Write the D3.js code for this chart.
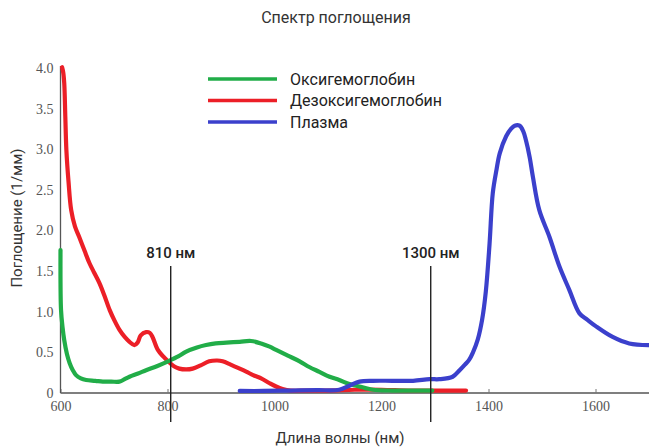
<!DOCTYPE html>
<html><head><meta charset="utf-8">
<script src="https://cdn.jsdelivr.net/npm/d3@7"></script>
<style>body{margin:0;background:#fff}</style>
</head><body>
<svg id="c" width="649" height="448"></svg>
<script>
const xTicks = [600, 800, 1000, 1200, 1400, 1600];
const yTicks = [0, 0.5, 1.0, 1.5, 2.0, 2.5, 3.0, 3.5, 4.0];
const seriesNames = ["Оксигемоглобин", "Дезоксигемоглобин", "Плазма"];

const oxyNm  = [600, 601, 604, 607, 612, 617, 623, 629, 638, 648, 665, 679, 695, 710, 720, 729, 745, 760, 780, 801, 820, 835, 855, 872, 890, 910, 935, 956, 975, 991, 1003, 1025, 1047, 1065, 1084, 1103, 1121, 1140, 1153, 1170, 1184, 1220, 1260, 1295];
const oxyVal = [1.76, 1.02, 0.80, 0.65, 0.48, 0.37, 0.28, 0.22, 0.18, 0.16, 0.15, 0.14, 0.14, 0.14, 0.17, 0.20, 0.24, 0.28, 0.33, 0.39, 0.45, 0.51, 0.56, 0.59, 0.61, 0.62, 0.63, 0.64, 0.61, 0.57, 0.53, 0.46, 0.39, 0.32, 0.26, 0.20, 0.16, 0.11, 0.09, 0.06, 0.04, 0.03, 0.03, 0.03];

const deoxyNm  = [603, 605, 607, 609, 611, 615, 620, 627, 635, 645, 654, 663, 673, 682, 692, 701, 710, 720, 729, 738, 744, 750, 760, 767, 772, 782, 792, 801, 812, 822, 835, 847, 862, 878, 893, 903, 918, 935, 948, 960, 975, 991, 1003, 1015, 1030, 1060, 1100, 1150, 1200, 1250, 1300, 1340, 1358];
const deoxyVal = [4.01, 3.95, 3.81, 3.40, 2.99, 2.60, 2.25, 2.05, 1.92, 1.75, 1.60, 1.48, 1.35, 1.20, 1.02, 0.89, 0.78, 0.69, 0.63, 0.59, 0.62, 0.71, 0.75, 0.74, 0.69, 0.53, 0.45, 0.39, 0.33, 0.30, 0.29, 0.30, 0.34, 0.39, 0.40, 0.39, 0.35, 0.30, 0.26, 0.22, 0.18, 0.12, 0.08, 0.05, 0.03, 0.03, 0.03, 0.04, 0.04, 0.03, 0.03, 0.03, 0.03];

const plasmaNm  = [935, 980, 1030, 1080, 1121, 1140, 1159, 1184, 1220, 1259, 1290, 1308, 1333, 1346, 1356, 1364, 1371, 1380, 1388, 1395, 1402, 1408, 1415, 1421, 1433, 1442, 1449, 1458, 1465, 1470, 1477, 1483, 1495, 1514, 1533, 1551, 1570, 1585, 1601, 1632, 1663, 1699];
const plasmaVal = [0.025, 0.025, 0.03, 0.035, 0.04, 0.09, 0.14, 0.15, 0.15, 0.15, 0.17, 0.17, 0.20, 0.28, 0.35, 0.41, 0.50, 0.66, 0.90, 1.25, 1.84, 2.46, 2.75, 2.95, 3.16, 3.25, 3.29, 3.29, 3.22, 3.11, 2.90, 2.66, 2.25, 1.92, 1.55, 1.27, 0.98, 0.90, 0.82, 0.69, 0.61, 0.59];

const markerNm = [806, 1292];
const markerLabels = ["810 нм", "1300 нм"];

const colors = ["#21ad48", "#ec1f27", "#3b40cc"];

const svg = d3.select("#c");
const x = d3.scaleLinear().domain([600, 1700]).range([60.5, 649]);
const y = d3.scaleLinear().domain([0, 4]).range([393, 68]);

// axes
const xAxis = d3.axisBottom(x).tickValues(xTicks).tickSize(-4).tickPadding(8).tickFormat(d3.format("d"));
const gx = svg.append("g").attr("transform", "translate(0,393)").call(xAxis);
const yAxis = d3.axisLeft(y).tickValues(yTicks).tickSize(0).tickPadding(7)
  .tickFormat(d => d === 0 ? "0" : d3.format(".1f")(d));
const gy = svg.append("g").attr("transform", "translate(60.5,0)").call(yAxis);
[gx, gy].forEach(g => {
  g.select(".domain").attr("stroke", "#555").attr("stroke-width", 1.3);
  g.selectAll(".tick line").attr("stroke", "#777");
  g.selectAll("text").attr("font-family", "'Liberation Serif', serif").attr("font-size", 14).attr("fill", "#555");
});
gy.select(".domain").attr("d", "M0,393V66");
gx.select(".domain").attr("d", "M60.5,0H649");

// curves
const series = [
  {nm: deoxyNm, v: deoxyVal, c: colors[1]},
  {nm: oxyNm, v: oxyVal, c: colors[0]},
  {nm: plasmaNm, v: plasmaVal, c: colors[2]}
];
const line = d3.line().x(d => x(d[0])).y(d => y(d[1])).curve(d3.curveCatmullRom.alpha(0.5));
series.forEach(s => {
  svg.append("path").datum(s.nm.map((n, i) => [n, s.v[i]]))
    .attr("d", line).attr("fill", "none").attr("stroke", s.c)
    .attr("stroke-width", 4.2).attr("stroke-linecap", "round").attr("stroke-linejoin", "round");
});

// markers
markerNm.forEach((m, i) => {
  svg.append("line").attr("x1", x(m)).attr("x2", x(m)).attr("y1", 266).attr("y2", 422)
    .attr("stroke", "#222").attr("stroke-width", 1.4);
  svg.append("text").attr("x", x(m)).attr("y", 258).attr("text-anchor", "middle")
    .attr("font-family", "Roboto, sans-serif").attr("font-size", 15).attr("font-weight", 500).attr("fill", "#222")
    .text(markerLabels[i]);
});

// legend
seriesNames.forEach((n, i) => {
  const yy = 79 + i * 21.5;
  svg.append("line").attr("x1", 208).attr("x2", 277).attr("y1", yy).attr("y2", yy)
    .attr("stroke", colors[i]).attr("stroke-width", 3.5);
  svg.append("text").attr("x", 290).attr("y", yy + 5.5)
    .attr("font-family", "Roboto, sans-serif").attr("font-size", 16).attr("fill", "#222").text(n);
});

// titles
svg.append("text").attr("x", 336).attr("y", 23).attr("text-anchor", "middle")
  .attr("font-family", "Roboto, sans-serif").attr("font-size", 16).attr("fill", "#333").text("Спектр поглощения");
svg.append("text").attr("x", 340).attr("y", 443).attr("text-anchor", "middle")
  .attr("font-family", "Roboto, sans-serif").attr("font-size", 15).attr("fill", "#333").text("Длина волны (нм)");
svg.append("text").attr("transform", "translate(22,218) rotate(-90)").attr("text-anchor", "middle")
  .attr("font-family", "Roboto, sans-serif").attr("font-size", 15).attr("fill", "#333").text("Поглощение (1/мм)");
</script>
</body></html>
